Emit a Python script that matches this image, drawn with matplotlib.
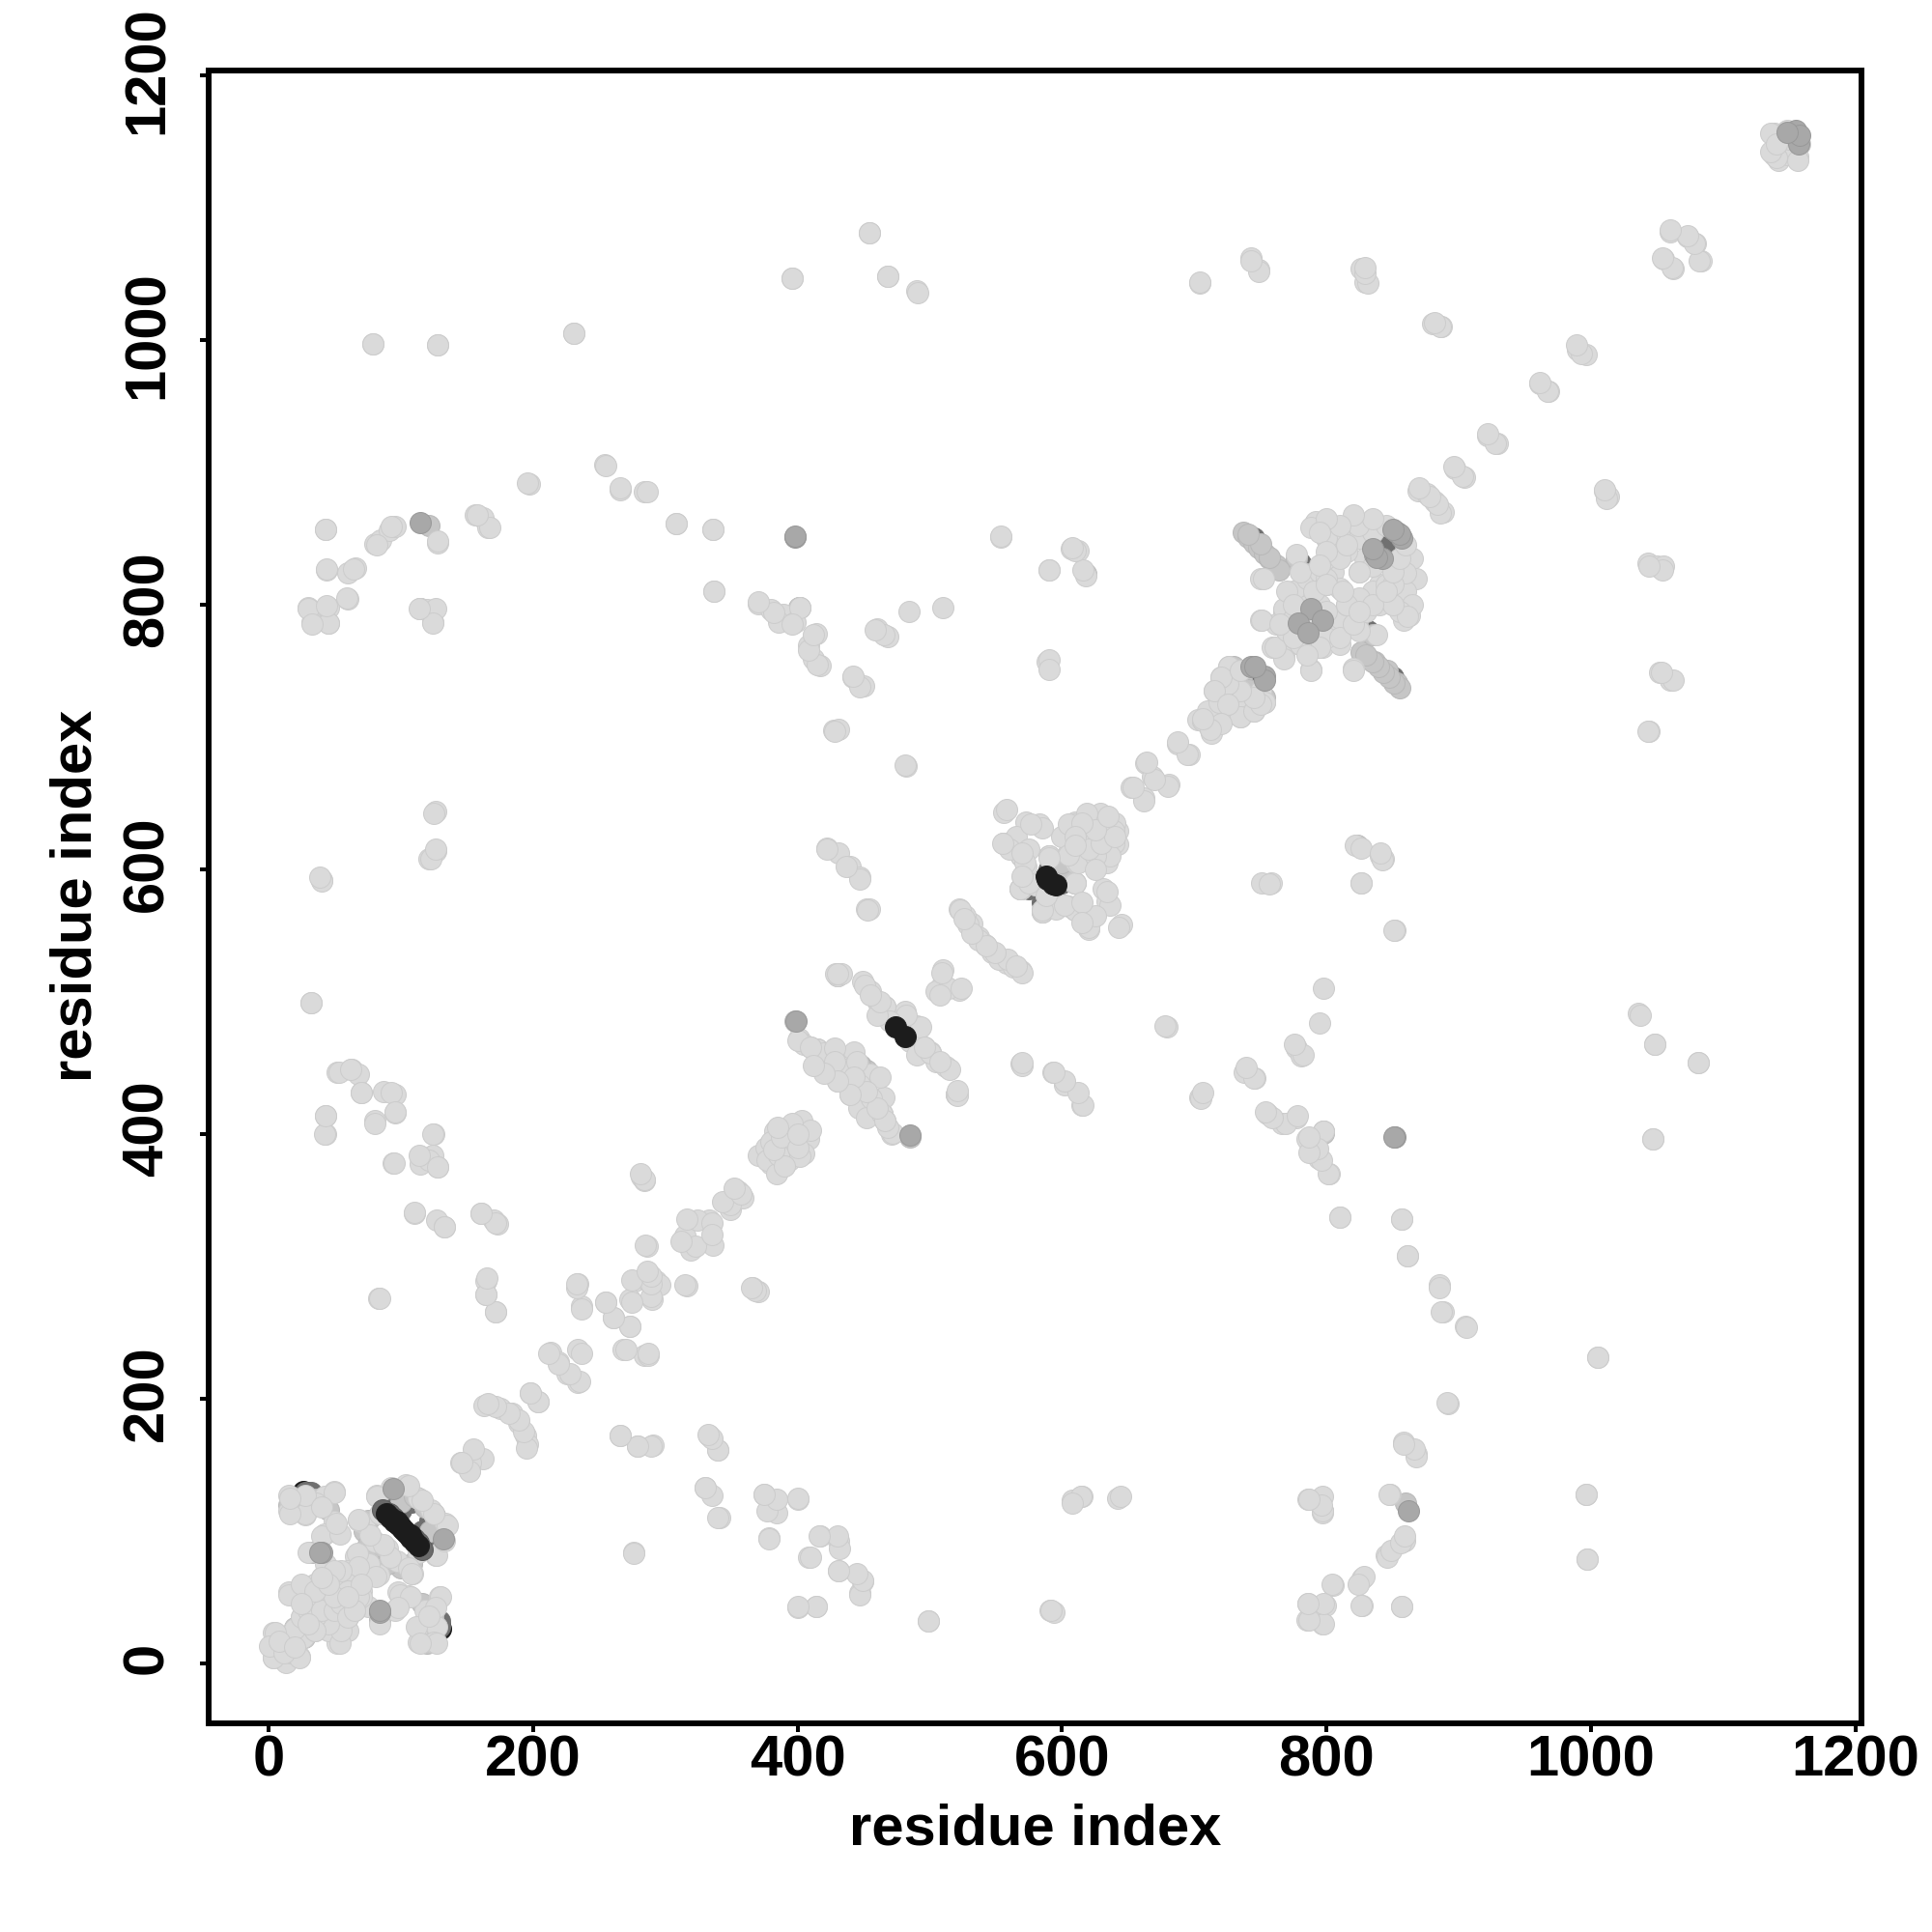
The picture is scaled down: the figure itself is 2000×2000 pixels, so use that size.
import matplotlib
matplotlib.use('Agg')
import matplotlib.pyplot as plt
from matplotlib.transforms import ScaledTranslation

# contact pairs (i, j), one half of the map only (the map is symmetric)
far_contacts = [(79,997),(128,996),(231,1005),(396,1047),(454,1081),(468,1048),(490,1037),(704,1043),
    (743,1062),(749,1053),(826,1054),(829,1044),(880,1012),(887,1010),(961,967),(968,961),(990,993),(996,989),
    (1055,1061),(1062,1054),(1060,1082),(1073,1078),(1079,1073),(1083,1060),
    (197,891),(254,906),(266,887),(284,885),(308,861),(336,857),(337,810),(43,857),(44,826),(66,828),(60,824),
    (60,804),(30,798),(33,787),(45,798),(45,786),(80,846),(85,849),(91,856),(96,859),(128,847),(115,797),
    (120,796),(124,787),(156,868),(162,866),(166,858),
    (370,801),(380,796),(389,793),(386,787),(398,787),(408,769),(414,778),(412,759),(417,754),(442,745),(450,739),
    (460,782),(468,776),(427,705),(431,706),(482,678),(484,795),(554,851),(590,826),(589,757),(607,842),(612,841),
    (1010,886),(1013,882),(1043,831),(1050,829),(1055,829),(1052,749),(1060,743),(1044,704),
    (869,886),(876,884),(882,878),(888,870),(897,903),(904,896),(922,928),(929,922)]

cluster_800 = [(750,820),(791,861),(824,860),(860,824),(815,850),(829,835),(800,850),(805,825),(840,815),(863,792),
    (858,788),(750,788),(768,795),(799,785),(759,768),(768,761),(788,751),(797,768),(820,752),(838,777),
    (726,753),(753,726),(719,726),(726,719),(703,713),(712,706),(775,810),(785,820),(795,800),(810,790),
    (820,800),(835,810),(850,800),(845,815),(780,770),(790,775),(770,780),(810,770),(825,780),
    (800,835),(810,845),(825,850),(835,855),(845,860),(865,835),(868,820),(860,810),(865,800),(855,795),(840,800),
    (830,795),(815,800),(800,815),(795,825),(810,812),(825,825),(790,790),(762,785),(775,775),(785,765),(800,775),
    (715,735),(720,745),(725,750),(730,745),(735,735),(740,725),(745,720),(735,715),(725,725),(710,720),(750,735)]

cluster_start = [(15,127),(50,130),(28,112),(15,115),(42,126),(36,121),(52,99),(50,107),(42,98),(30,84),(15,54),
    (52,15),(75,43),(96,40),(98,54),(106,51),(113,28),(127,28),(129,50),(113,16),(125,16),(118,40),
    (4,23),(26,20),(4,4),(23,5),(13,1),(72,106),(68,108),(80,92),(90,87),(97,77),(109,68),(75,76),(66,81),(83,67),
    (73,68),(82,127),(93,133),(104,135),(113,125),(123,116),(134,106),(126,82),(113,84),
    (47,47),(47,30),(30,40),(35,50),(40,60),(45,35),(50,30),(55,45),(60,60),(30,55),(35,25),(40,30),(50,40),(55,60),
    (60,35),(65,50),(25,55),(30,45),(45,40),(55,60),(60,25),(65,45),(70,55),(35,35),(40,40),(50,68),(60,70),(70,50),
    (25,35),(40,50),(45,55),(50,50),(55,35),(45,25),(60,45),(65,40),(35,60),(30,30),(40,65),(50,60),(8,12),(17,8),(12,20)]

diagonal = [(152,153),(162,155),(145,152),(152,146),(163,195),(175,193),(184,189),(189,182),(194,172),(196,166),
    (198,204),(204,198),(213,235),(219,228),(226,219),(234,212),(234,237),(234,287),(237,270),(255,273),(261,261),
    (273,255),(268,237),(284,233),(287,233),(277,289),(287,289),(273,275),(290,275),(293,289),(286,315),(296,286),
    (316,285),(282,368),(284,365),(366,284),(370,281),(315,323),(319,312),(333,335),(336,316),(324,335),(347,349),
    (349,343),(355,357),(359,352),(383,402),(380,377),(394,396),(403,410),(394,380),(370,384),(408,396),(384,386),
    (376,390),(388,382),(398,388),(405,385),(390,400),(400,400),
    (652,662),(662,654),(663,680),(668,670),(681,664),(687,695),(696,687),(706,712),(714,706)]

strands = [(401,472),(415,464),(427,456),(437,447),(449,437),(461,420),(471,400),(443,462),(455,445),(465,428),
    (405,468),(410,466),(420,460),(432,452),(443,443),(455,428),(466,410),(430,440),(440,430),(446,420),(452,412),
    (449,515),(461,500),(481,493),(490,482),(496,466),(512,451),(521,430),(430,520),(510,514),(522,509),(505,508),
    (455,508),(466,496),(485,470),(490,460),(500,462),(505,455),
    (510,524),(569,453),(593,447),(602,437),(615,422),
    (522,570),(532,559),(537,549),(547,537),(558,529),(569,523),(452,570),(527,565),(542,543),(552,532),(563,526),
    (556,643),(573,636),(583,634),(556,620),(569,610),(573,602),(590,610),(605,612),(611,605),(609,590),(569,585),
    (580,588),(585,568),(605,572),(620,555),(612,570),(631,585),(634,576),(645,558),
    (620,639),(629,639),(642,629),(610,636),(634,610),(624,616),(642,619),(634,605),
    (610,625),(615,620),(620,630),(625,640),(630,625),(635,615),(625,610),(640,635),(600,625),(618,610),
    (565,625),(575,615),(560,615),(590,575),(595,570),
    (422,616),(431,612),(440,602),(447,594),(429,521),(433,521),(454,570)]

lower_right = [(758,590),(751,590),(822,618),(826,616),(841,610),(843,608),(826,590),(852,554),(679,481),(738,447),
    (746,442),(704,428),(755,415),(766,408),(777,412),(777,465),(781,459),(798,510),(798,402),(785,396),(794,382),
    (802,370),(810,337),(857,336),(861,308),(885,286),(888,266),(905,255),(1005,231),(892,196),(858,167),(868,158),
    (848,128),(859,93),(845,82),(827,64),(827,44),(857,43),(805,59),(797,126),(786,124),(797,114),(786,45),(797,30),
    (785,33),(799,44),(996,128),(997,79),(1036,491),(1048,468),(1081,454),(1047,396),
    (642,125),(608,123),(615,126),(591,40),(594,39),(499,32),(447,53),(449,62),(431,93),(431,70),(417,96),(408,80),
    (400,124),(380,121),(375,128),(384,114),(378,95),(400,42),(414,43),(333,172),(340,161),(330,133),(341,110),
    (266,172),(279,164),(291,165),(276,84)]

upper_left = [(126,644),(126,614),(121,608),(40,592),(32,499),(52,447),(63,449),(68,445),(70,431),(87,432),(96,430),
    (96,416),(80,410),(43,414),(43,400),(94,378),(125,400),(115,377),(124,384),(128,375),(110,340),(127,335),
    (133,330),(161,340),(170,335),(173,332),(164,289),(164,279),(172,266),(83,276),
    (1139,1156),(1145,1146),(1138,1140),(1152,1150),(1142,1136),(1148,1140),(1158,1148),(1136,1156)]

pale = [(737,855),(741,851),(745,847),(749,843),(753,839),(757,835),(762,830),(777,835),(786,823),(768,795),
    (826,764),(836,757),(846,750),(853,741),(730,753),(736,741),
    (15,120),(22,118),(36,124),(45,116),(75,108),(83,39),(84,33),(9,18),(20,27),(72,100),(75,90),(88,80),
    (100,122),(113,125),(118,118),(126,110),
    (398,485),(415,464),(448,452),(452,447),(461,500),(430,520),
    (556,620),(569,610),(590,610),(598,605),(605,600),(569,585),(580,588),(585,568),
    (401,798),(121,860),(115,797),(618,823),(798,402),(1140,1152),(1150,1145)]

mid = [(853,855),(857,850),(836,838),(842,835),(788,797),(779,786),(743,753),(753,746),(862,115),(852,398),(398,851),
    (40,84),(132,94),(485,399),(1155,1158),(1157,1148),(84,39)]

dark = [(845,842),(831,780),(850,745),(28,129),(24,122),(25,115),(92,116),(95,112),(127,28),
    (129,32),(108,122),(116,100),(595,600),(585,575),(600,590),(1150,1152),(790,800),(740,748)]

darkest = [(29,129),(30,125),(126,30),(841,843),(845,838),(28,120),(130,26),(475,484)]

# these sit on top of everything else
strand_edge = [(110,94),(113,91),(86,116)]
top_strand = [(89,113),(92,110),(95,107),(98,105),(101,102),(104,99),(107,97),(474,481),(588,595),(593,589)]

light = far_contacts + cluster_800 + cluster_start + diagonal + strands + lower_right + upper_left

plt.rcParams['font.family'] = ['Liberation Sans', 'DejaVu Sans']
plt.rcParams['font.weight'] = 'bold'

fig = plt.figure(figsize=(20, 20), dpi=100)
ax = fig.add_axes([216/2000, 1-1784/2000, (1927-216)/2000, (1784-73)/2000])

# dark points go underneath, light ones on top; the thin rim gives the overlap texture
layers = [(darkest, '#181818', '#181818'), (dark, '#707070', '#707070'), (pale, '#c6c6c6', '#b8b8b8'),
          (light, '#dadada', '#cccccc'), (mid, '#a8a8a8', '#989898'), (strand_edge, '#6a6a6a', '#5a5a5a'),
          (top_strand, '#1c1c1c', '#1c1c1c')]
for pairs, col, rim in layers:
    i, j = zip(*pairs)
    ax.scatter(i, j, s=250, color=col, edgecolors=rim, linewidths=0.7, zorder=2)
    ax.scatter(j, i, s=250, color=col, edgecolors=rim, linewidths=0.7, zorder=2)

ax.set_xlim(-45.3, 1204.5)
ax.set_ylim(-45.3, 1203.6)
ticks = [0, 200, 400, 600, 800, 1000, 1200]
ax.set_xticks(ticks)
ax.set_yticks(ticks)
ax.tick_params(axis='x', length=6.5, width=2.9, labelsize=43, pad=2)
ax.tick_params(axis='y', length=6.5, width=2.9, labelsize=43, pad=19)
shift_up = ScaledTranslation(0, 4/72, fig.dpi_scale_trans)
for t in ax.get_yticklabels():
    t.set_rotation(90)
    t.set_va('center')
    t.set_transform(t.get_transform() + shift_up)
for s in ax.spines.values():
    s.set_linewidth(4.3)

fig.text(1072/2000, 1-1894/2000, 'residue index', ha='center', va='center', fontsize=43, fontweight='bold')
fig.text(79/2000, 1-927/2000, 'residue index', ha='center', va='center', rotation=90, fontsize=43, fontweight='bold')

plt.savefig('out.png', dpi=100)
